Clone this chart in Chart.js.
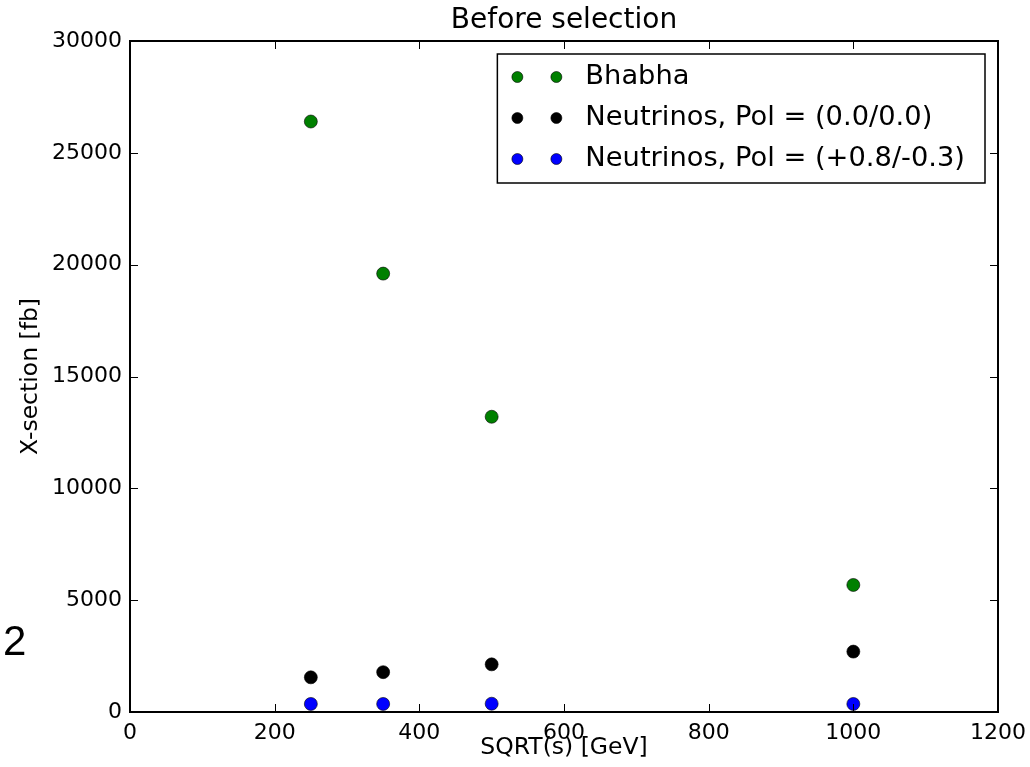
<!DOCTYPE html>
<html>
<head>
<meta charset="utf-8">
<script src="https://cdn.jsdelivr.net/npm/chart.js@4.4.1/dist/chart.umd.min.js"></script>
<style>
  html, body { margin: 0; padding: 0; background: #fff; }
  #wrap { position: relative; width: 1030px; height: 767px; }
  #stray { position: absolute; left: 3px; top: 620px; font: 42px "Liberation Sans", Arial, sans-serif; line-height: 1; color: #000; }
</style>
</head>
<body>
<div id="wrap">
  <canvas id="chart" width="1030" height="767"></canvas>
  <div id="stray">2</div>
</div>
<script>
// Data
const energies = [250, 350, 500, 1000]; // SQRT(s) [GeV]
const bhabha = [26400, 19600, 13200, 5680];
const nuUnpol = [1550, 1780, 2130, 2700];
const nuPol = [360, 360, 370, 360];
const seriesLabels = ["Bhabha", "Neutrinos, Pol = (0.0/0.0)", "Neutrinos, Pol = (+0.8/-0.3)"];
const seriesColors = ["#008000", "#000000", "#0000ff"];
const xTicks = [0, 200, 400, 600, 800, 1000, 1200];
const yTicks = [0, 5000, 10000, 15000, 20000, 25000, 30000];
const chartTitle = "Before selection";

const FONT = "'DejaVu Sans', Verdana, sans-serif";

function toPoints(ys) {
  return energies.map((x, i) => ({ x: x, y: ys[i] }));
}

// frame + inward ticks on all four sides, title centred over the axes
const frameTicks = {
  id: "frameTicks",
  afterDraw(chart) {
    const { ctx, chartArea: a, scales } = chart;
    ctx.save();
    ctx.strokeStyle = "#000";
    ctx.lineWidth = 1;
    const len = 8;
    ctx.beginPath();
    xTicks.forEach((v) => {
      const px = Math.round(scales.x.getPixelForValue(v)) + 0.5;
      ctx.moveTo(px, a.bottom); ctx.lineTo(px, a.bottom - len);
      ctx.moveTo(px, a.top); ctx.lineTo(px, a.top + len);
    });
    yTicks.forEach((v) => {
      const py = Math.round(scales.y.getPixelForValue(v)) + 0.5;
      ctx.moveTo(a.left, py); ctx.lineTo(a.left + len, py);
      ctx.moveTo(a.right, py); ctx.lineTo(a.right - len, py);
    });
    ctx.stroke();
    ctx.lineWidth = 2;
    ctx.strokeRect(a.left, a.top, a.right - a.left, a.bottom - a.top);

    ctx.fillStyle = "#000";
    ctx.font = "28px " + FONT;
    ctx.textAlign = "center";
    ctx.textBaseline = "middle";
    ctx.fillText(chartTitle, (a.left + a.right) / 2, 21);
    ctx.restore();
  },
};

// legend box with two markers per entry, like matplotlib numpoints=2
const mplLegend = {
  id: "mplLegend",
  afterDraw(chart) {
    const { ctx, chartArea: a } = chart;
    const ds = chart.data.datasets;
    ctx.save();
    ctx.font = "27.3px " + FONT;
    let maxW = 0;
    ds.forEach((d) => { maxW = Math.max(maxW, ctx.measureText(d.label).width); });
    const right = a.right - 13;
    const top = a.top + 13;
    const textOffset = 88;
    const w = textOffset + maxW + 20;
    const rowH = 41;
    const h = 129;
    const left = right - w;
    ctx.fillStyle = "#fff";
    ctx.fillRect(left, top, w, h);
    ctx.strokeStyle = "#000";
    ctx.lineWidth = 1.5;
    ctx.strokeRect(left, top, w, h);
    ds.forEach((d, i) => {
      const cy = top + 23 + i * rowH;
      [left + 20, left + 59].forEach((cx) => {
        ctx.beginPath();
        ctx.arc(cx, cy, 5.5, 0, Math.PI * 2);
        ctx.fillStyle = d.backgroundColor;
        ctx.fill();
        ctx.lineWidth = 0.6;
        ctx.strokeStyle = "#000";
        ctx.stroke();
      });
      ctx.fillStyle = "#000";
      ctx.textBaseline = "middle";
      ctx.textAlign = "left";
      ctx.fillText(d.label, left + textOffset, cy);
    });
    ctx.restore();
  },
};

const seriesData = [bhabha, nuUnpol, nuPol];

new Chart(document.getElementById("chart"), {
  type: "scatter",
  data: {
    datasets: seriesData.map((ys, i) => ({
      label: seriesLabels[i],
      data: toPoints(ys),
      backgroundColor: seriesColors[i],
      borderColor: "#000",
      borderWidth: 0.6,
      pointRadius: 6.5,
      pointHoverRadius: 6.5,
    })),
  },
  options: {
    responsive: false,
    animation: false,
    devicePixelRatio: 1,
    layout: { padding: { left: 0, right: 32, top: 41, bottom: 0 } },
    plugins: {
      legend: { display: false },
      tooltip: { enabled: false },
      title: { display: false },
    },
    scales: {
      x: {
        type: "linear",
        min: 0,
        max: 1200,
        afterBuildTicks: (s) => { s.ticks = xTicks.map((v) => ({ value: v })); },
        afterFit: (s) => { s.height = 55; s.paddingLeft = 0; s.paddingRight = 0; },
        ticks: { color: "#000", padding: 8, font: { family: FONT, size: 22 }, callback: (v) => String(v) },
        grid: { display: false, drawTicks: false },
        border: { display: false },
        title: {
          display: true,
          text: "SQRT(s) [GeV]",
          color: "#000",
          font: { family: FONT, size: 23.5 },
          padding: { top: 0, bottom: 5 },
        },
      },
      y: {
        type: "linear",
        min: 0,
        max: 30000,
        afterBuildTicks: (s) => { s.ticks = yTicks.map((v) => ({ value: v })); },
        afterFit: (s) => { s.width = 130; s.paddingTop = 0; s.paddingBottom = 0; },
        ticks: { color: "#000", padding: 8, font: { family: FONT, size: 22 }, callback: (v) => String(v) },
        grid: { display: false, drawTicks: false },
        border: { display: false },
        title: {
          display: true,
          text: "X-section [fb]",
          color: "#000",
          font: { family: FONT, size: 23.5 },
          padding: { top: 17, bottom: 0 },
        },
      },
    },
  },
  plugins: [frameTicks, mplLegend],
});
</script>
</body>
</html>
